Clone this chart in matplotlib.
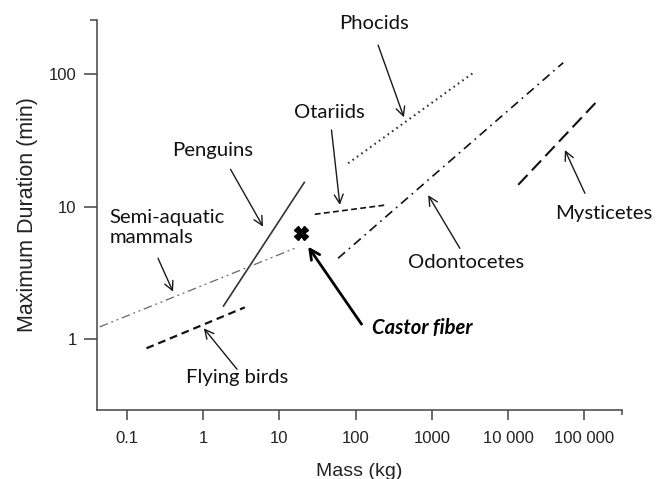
import matplotlib

matplotlib.use("Agg")
import matplotlib.pyplot as plt
from matplotlib.ticker import FixedLocator, NullFormatter

# allometric lines: (mass kg) endpoints and (max dive duration min) endpoints
groups = ["Penguins", "Semi-aquatic", "Flying birds", "Otariids", "Odontocetes", "Phocids", "Mysticetes"]
mass_start = [1.82, 0.0438, 0.18, 29.1, 58.9, 79.7, 13600]
mass_end = [21.5, 15.9, 3.51, 255, 53000, 3670, 145500]
dur_start = [1.76, 1.24, 0.855, 8.75, 4.08, 21.2, 14.6]
dur_end = [15.4, 4.85, 1.74, 10.3, 121.6, 104, 61.8]

castor_mass = 18.9
castor_dur = 6.35

x_ticks = [0.1, 1, 10, 100, 1000, 10000, 100000]
x_ticklabels = ["0.1", "1", "10", "100", "1000", "10 000", "100 000"]
y_ticks = [1, 10, 100]
y_ticklabels = ["1", "10", "100"]
x_lim = (0.04, 310000)
y_lim = (0.293, 255)

styles = {
    "Penguins": dict(color="#333333", lw=1.2, ls="-"),
    "Semi-aquatic": dict(color="#666666", lw=0.9, ls=(0, (7, 3, 1.5, 3, 1.5, 3))),
    "Flying birds": dict(color="#111111", lw=1.6, ls=(0, (3.5, 2.2))),
    "Otariids": dict(color="#111111", lw=1.2, ls=(0, (3.5, 2))),
    "Odontocetes": dict(color="#111111", lw=1.2, ls=(0, (5.5, 3, 1, 3))),
    "Phocids": dict(color="#333333", lw=1.5, ls=(0, (0.8, 1.8))),
    "Mysticetes": dict(color="#111111", lw=1.5, ls=(0, (6.5, 3))),
}

# labels: text (x, y), arrow tail, arrow head -- all in data units
labels = [
    ("Phocids", (173, 242), (197, 165), (430, 47.1)),
    ("Otariids", (45.8, 50.8), (48.2, 37.8), (62.1, 10.3)),
    ("Penguins", (1.31, 26.7), (2.28, 19.1), (6.1, 7.06)),
    ("Flying birds", (2.75, 0.517), (2.78, 0.594), (1.016, 1.21)),
    ("Odontocetes", (2800, 3.78), (2330, 4.85), (895, 12.2)),
    ("Mysticetes", (181000, 8.91), (102000, 12.6), (55700, 26.7)),
]
semi_text = (0.0593, 6.96)
semi_arrow = ((0.255, 4.08), (0.402, 2.28))
castor_text = (162, 1.21)
castor_arrow = ((119.5, 1.30), (23.8, 4.99))

LABEL_FONT = "Lato"
AXIS_FONT = "Liberation Sans"
LABEL_SIZE = 14.6

fig = plt.figure(figsize=(6.65, 4.79), dpi=100)
ax = fig.add_axes([96.7 / 665, 1 - 410 / 479, (621.7 - 96.7) / 665, (410 - 20) / 479])
ax.set_xscale("log")
ax.set_yscale("log")
ax.set_xlim(*x_lim)
ax.set_ylim(*y_lim)

for g, x0, x1, y0, y1 in zip(groups, mass_start, mass_end, dur_start, dur_end):
    st = styles[g]
    ax.plot([x0, x1], [y0, y1], color=st["color"], lw=st["lw"], linestyle=st["ls"],
            solid_capstyle="butt", dash_capstyle="butt")

ax.plot([castor_mass], [castor_dur], marker="X", color="black", markersize=10, mec="black")

arrow_kw = dict(arrowstyle="->", color="#1a1a1a", lw=1.0, shrinkA=0, shrinkB=0,
                mutation_scale=16)
for name, txt, tail, head in labels:
    ax.text(txt[0], txt[1], name, ha="center", va="center", fontsize=LABEL_SIZE,
            family=LABEL_FONT, color="#111111")
    ax.annotate("", xy=head, xytext=tail, arrowprops=arrow_kw)

ax.text(semi_text[0], semi_text[1], "Semi-aquatic\nmammals", ha="left", va="center",
        fontsize=LABEL_SIZE, family=LABEL_FONT, color="#111111", linespacing=1.15)
ax.annotate("", xy=semi_arrow[1], xytext=semi_arrow[0], arrowprops=arrow_kw)

ax.text(castor_text[0], castor_text[1], "Castor fiber", ha="left", va="center",
        fontsize=LABEL_SIZE, family=LABEL_FONT, weight="bold", style="italic", color="#000000")
thick_kw = dict(arrow_kw, lw=2.0, color="#000000", mutation_scale=18)
ax.annotate("", xy=castor_arrow[1], xytext=castor_arrow[0], arrowprops=thick_kw)

# axes in R style: left + bottom only
for side in ("top", "right"):
    ax.spines[side].set_visible(False)
for side in ("left", "bottom"):
    ax.spines[side].set_color("#444444")
    ax.spines[side].set_linewidth(1.1)

ax.xaxis.set_major_locator(FixedLocator(x_ticks))
ax.set_xticklabels(x_ticklabels)
ax.yaxis.set_major_locator(FixedLocator(y_ticks))
ax.set_yticklabels(y_ticklabels)
ax.xaxis.set_minor_locator(FixedLocator([x_lim[1]]))
ax.yaxis.set_minor_locator(FixedLocator([y_lim[1]]))
ax.xaxis.set_minor_formatter(NullFormatter())
ax.yaxis.set_minor_formatter(NullFormatter())

ax.tick_params(axis="x", which="major", length=7.2, width=1.1, color="#444444", pad=8,
               labelsize=12, labelcolor="#222222")
ax.tick_params(axis="y", which="major", length=9.4, width=1.1, color="#444444", pad=5,
               labelsize=12, labelcolor="#222222")
ax.tick_params(axis="x", which="minor", length=3.6, width=1.1, color="#444444")
ax.tick_params(axis="y", which="minor", length=5, width=1.1, color="#444444")
for lab in ax.get_xticklabels() + ax.get_yticklabels():
    lab.set_family(AXIS_FONT)

ax.set_xlabel("Mass (kg)", family=AXIS_FONT, fontsize=14, color="#222222", labelpad=12)
ax.set_ylabel("Maximum Duration (min)", family=AXIS_FONT, fontsize=15.5, color="#222222",
              labelpad=8)

fig.savefig("out.png", dpi=100)
